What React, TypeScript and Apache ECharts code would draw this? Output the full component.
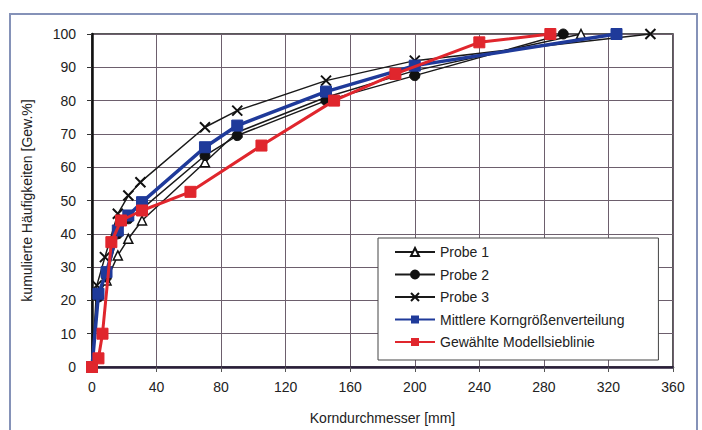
import React, { useEffect, useRef } from "react";
import * as echarts from "echarts";

const xTicks = [0, 40, 80, 120, 160, 200, 240, 280, 320, 360];
const yTicks = [0, 10, 20, 30, 40, 50, 60, 70, 80, 90, 100];

const probe1: [number, number][] = [
  [0, 0], [4, 22], [9, 26], [16, 33.5], [22.5, 38.5], [31, 44], [70, 61.5], [90, 70.5], [145, 81], [200, 89], [303, 100],
];
const probe2: [number, number][] = [
  [0, 0], [4, 21], [9, 27], [16, 40], [22.5, 44.5], [31, 47.5], [70, 63.5], [90, 69.5], [145, 80], [200, 87.5], [292, 100],
];
const probe3: [number, number][] = [
  [0, 0], [3, 24.5], [8, 33], [16, 46], [22.5, 51.5], [30, 55.5], [70, 72], [90, 77], [145, 86], [200, 92], [346, 100],
];
const mittlere: [number, number][] = [
  [0, 0], [4, 22], [9, 28.5], [16, 41], [22.5, 45.5], [31, 49.5], [70, 66], [90, 72.5], [145, 82.7], [200, 90.5], [325, 100],
];
const modell: [number, number][] = [
  [0, 0], [4, 2.6], [6.5, 10], [12, 37.5], [18, 44], [31, 47], [61, 52.6], [105, 66.5], [150, 80], [188, 88], [240, 97.5], [284, 100],
];

const names = [
  "Probe 1",
  "Probe 2",
  "Probe 3",
  "Mittlere Korngrößenverteilung",
  "Gewählte Modellsieblinie",
];

const FONT = "Liberation Sans, Arial, sans-serif";

export default function App() {
  const ref = useRef<HTMLDivElement>(null);
  useEffect(() => {
    if (!ref.current) return;
    const chart = echarts.init(ref.current, undefined, { renderer: "svg" });
    chart.setOption({
      animation: false,
      backgroundColor: "#ffffff",
      textStyle: { fontFamily: FONT },
      graphic: [
        {
          type: "rect",
          shape: { x: 10, y: 14, width: 687, height: 430 },
          style: { fill: "none", stroke: "#8592b8", lineWidth: 2 },
          z: -10,
        },
      ],
      grid: { left: 92, right: 29, top: 34, bottom: 62, show: true, borderColor: "#222", borderWidth: 1.5 },
      xAxis: {
        type: "value",
        min: 0,
        max: 360,
        interval: 40,
        name: "Korndurchmesser [mm]",
        nameLocation: "middle",
        nameGap: 44,
        nameTextStyle: { fontSize: 14, color: "#222", fontFamily: FONT },
        axisLine: { show: true, onZero: false, lineStyle: { color: "#2a1f3a", width: 2.5 } },
        axisTick: { show: true, length: 5, lineStyle: { color: "#555" } },
        axisLabel: { fontSize: 14, color: "#222", margin: 13, fontFamily: FONT, formatter: (v: number) => (xTicks.includes(v) ? String(v) : "") },
        splitLine: { show: true, lineStyle: { color: "#6d5f6d", width: 1 } },
      },
      yAxis: {
        type: "value",
        min: 0,
        max: 100,
        interval: 10,
        name: "kumulierte Häufigkeiten [Gew.%]",
        nameLocation: "middle",
        nameGap: 58,
        nameTextStyle: { fontSize: 14, color: "#222", fontFamily: FONT },
        axisLine: { show: true, lineStyle: { color: "#111", width: 2.5 } },
        axisTick: { show: true, length: 5, lineStyle: { color: "#333" } },
        axisLabel: { fontSize: 14, color: "#222", margin: 16, fontFamily: FONT, formatter: (v: number) => (yTicks.includes(v) ? String(v) : "") },
        splitLine: { show: true, lineStyle: { color: "#6d5f6d", width: 1 } },
      },
      legend: {
        orient: "vertical",
        left: 378,
        top: 238,
        padding: [7, 34, 11, 16],
        itemGap: 8.5,
        itemWidth: 40,
        itemHeight: 10,
        backgroundColor: "#ffffff",
        borderColor: "#444",
        borderWidth: 1,
        borderRadius: 0,
        textStyle: { fontSize: 14, color: "#222", fontFamily: FONT },
        data: names,
      },
      series: [
        {
          name: names[0],
          type: "line",
          data: probe1,
          symbol: "triangle",
          symbolSize: 9,
          lineStyle: { color: "#1a1a1a", width: 1.5 },
          itemStyle: { color: "#ffffff", borderColor: "#111", borderWidth: 1.5 },
          z: 2,
        },
        {
          name: names[1],
          type: "line",
          data: probe2,
          symbol: "circle",
          symbolSize: 10,
          lineStyle: { color: "#1a1a1a", width: 1.5 },
          itemStyle: { color: "#111", borderColor: "#111", borderWidth: 1 },
          z: 2,
        },
        {
          name: names[2],
          type: "line",
          data: probe3,
          symbol: "path://M0,0L10,10M10,0L0,10",
          symbolSize: 10,
          lineStyle: { color: "#1a1a1a", width: 1.5 },
          itemStyle: { color: "none", borderColor: "#111", borderWidth: 2 },
          z: 2,
        },
        {
          name: names[3],
          type: "line",
          data: mittlere,
          symbol: "rect",
          symbolSize: 11,
          lineStyle: { color: "#1f3a9a", width: 3.5 },
          itemStyle: { color: "#1f3a9a", borderColor: "#1f3a9a" },
          z: 3,
        },
        {
          name: names[4],
          type: "line",
          data: modell,
          symbol: "rect",
          symbolSize: 11,
          lineStyle: { color: "#e0262d", width: 3 },
          itemStyle: { color: "#e0262d", borderColor: "#e0262d" },
          z: 4,
        },
      ],
    });
    return () => chart.dispose();
  }, []);
  return (
    <div
      ref={ref}
      style={{ position: "fixed", left: 0, top: 0, width: 702, height: 430 }}
    />
  );
}
